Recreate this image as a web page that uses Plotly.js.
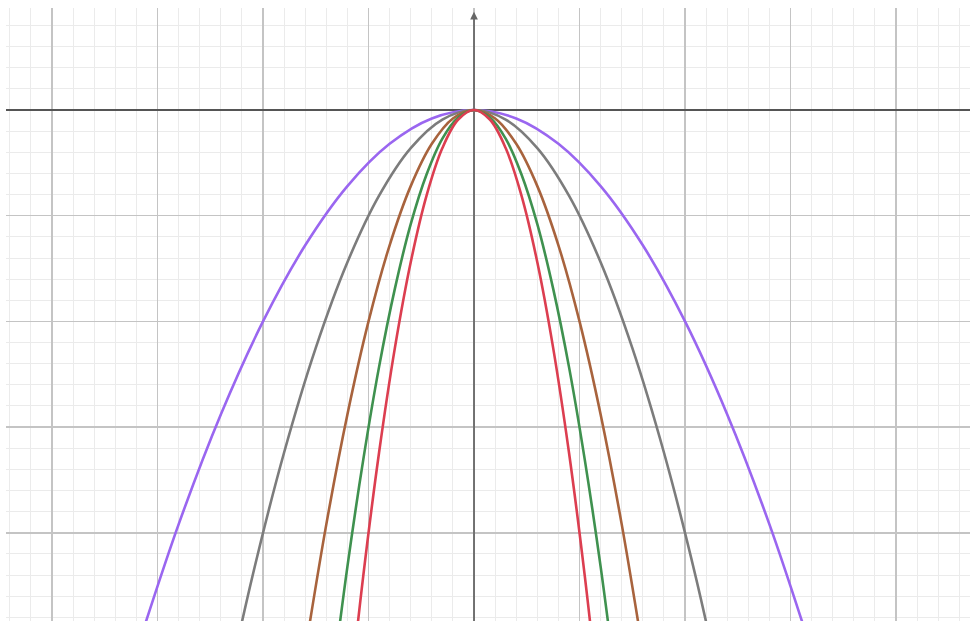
<!DOCTYPE html>
<html>
<head>
<meta charset="utf-8">
<script src="https://cdn.plot.ly/plotly-3.0.1.min.js"></script>
<style>html,body{margin:0;padding:0;background:#fff;}#chart{width:970px;height:621px;}</style>
</head>
<body>
<div id="chart"></div>
<script>
// Points for each curve (y = -a·x², a = 0.5, 1, 2, 3, 4)
var purpleX = [-3.2,-2.8,-2.4,-2,-1.6,-1.2,-0.8,-0.4,0,0.4,0.8,1.2,1.6,2,2.4,2.8,3.2];
var purpleY = [-5.12,-3.92,-2.88,-2,-1.28,-0.72,-0.32,-0.08,0,-0.08,-0.32,-0.72,-1.28,-2,-2.88,-3.92,-5.12];

var grayX = [-2.4,-2.1,-1.8,-1.5,-1.2,-0.9,-0.6,-0.3,0,0.3,0.6,0.9,1.2,1.5,1.8,2.1,2.4];
var grayY = [-5.76,-4.41,-3.24,-2.25,-1.44,-0.81,-0.36,-0.09,0,-0.09,-0.36,-0.81,-1.44,-2.25,-3.24,-4.41,-5.76];

var brownX = [-1.6,-1.4,-1.2,-1,-0.8,-0.6,-0.4,-0.2,0,0.2,0.4,0.6,0.8,1,1.2,1.4,1.6];
var brownY = [-5.12,-3.92,-2.88,-2,-1.28,-0.72,-0.32,-0.08,0,-0.08,-0.32,-0.72,-1.28,-2,-2.88,-3.92,-5.12];

var greenX = [-1.35,-1.2,-1.05,-0.9,-0.75,-0.6,-0.45,-0.3,-0.15,0,0.15,0.3,0.45,0.6,0.75,0.9,1.05,1.2,1.35];
var greenY = [-5.47,-4.32,-3.31,-2.43,-1.69,-1.08,-0.61,-0.27,-0.07,0,-0.07,-0.27,-0.61,-1.08,-1.69,-2.43,-3.31,-4.32,-5.47];

var redX = [-1.2,-1.05,-0.9,-0.75,-0.6,-0.45,-0.3,-0.15,0,0.15,0.3,0.45,0.6,0.75,0.9,1.05,1.2];
var redY = [-5.76,-4.41,-3.24,-2.25,-1.44,-0.81,-0.36,-0.09,0,-0.09,-0.36,-0.81,-1.44,-2.25,-3.24,-4.41,-5.76];

var seriesNames = ['y = -0.5x²','y = -x²','y = -2x²','y = -3x²','y = -4x²'];
var seriesColors = ['#9a66f0','#7c7c7c','#a8633d','#3f914f','#dc3e50'];

var xs = [purpleX, grayX, brownX, greenX, redX];
var ys = [purpleY, grayY, brownY, greenY, redY];

var xRange = [-4.436, 4.701];
var yRange = [-4.834, 0.965];

var traces = xs.map(function(x, i){
  return {
    x: x, y: ys[i], name: seriesNames[i], type: 'scatter', mode: 'lines',
    line: {color: seriesColors[i], width: 2.6, shape: 'spline', smoothing: 1},
    hoverinfo: 'skip'
  };
});

var layout = {
  width: 970, height: 621,
  margin: {l: 6, r: 0, t: 8, b: 0, pad: 0},
  paper_bgcolor: '#ffffff', plot_bgcolor: '#ffffff',
  showlegend: false,
  xaxis: {
    range: xRange, fixedrange: true,
    showgrid: true, gridcolor: '#c4c4c4', gridwidth: 1.4,
    dtick: 1, tick0: 0, showticklabels: false, ticks: '',
    zeroline: false, showline: false,
    minor: {dtick: 0.2, tick0: 0, showgrid: true, gridcolor: '#ebebeb', gridwidth: 1}
  },
  yaxis: {
    range: yRange, fixedrange: true,
    showgrid: true, gridcolor: '#c4c4c4', gridwidth: 1.4,
    dtick: 1, tick0: 0, showticklabels: false, ticks: '',
    zeroline: true, zerolinecolor: '#555555', zerolinewidth: 1.6, showline: false,
    minor: {dtick: 0.2, tick0: 0, showgrid: true, gridcolor: '#ebebeb', gridwidth: 1}
  },
  shapes: [
    {type: 'line', xref: 'x', yref: 'y', x0: 0, x1: 0, y0: yRange[0], y1: 0.9,
     line: {color: '#5e5e5e', width: 1.6}, layer: 'between'}
  ],
  annotations: [
    {x: 0, y: 0.93, xref: 'x', yref: 'y', ax: 0, ay: 8, axref: 'pixel', ayref: 'pixel',
     text: '', showarrow: true, arrowhead: 2, arrowsize: 1.1, arrowwidth: 1.4, arrowcolor: '#666666'}
  ]
};

Plotly.newPlot('chart', traces, layout, {staticPlot: true, displayModeBar: false});
</script>
</body>
</html>
